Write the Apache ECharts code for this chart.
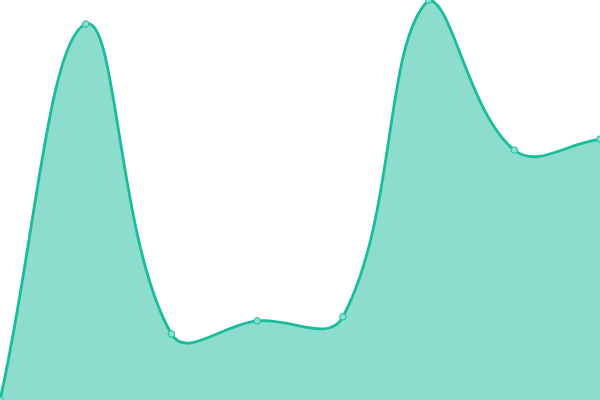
<!DOCTYPE html>
<html><head><meta charset="utf-8">
<script src="https://cdn.jsdelivr.net/npm/echarts@6/dist/echarts.min.js"></script>
<style>html,body{margin:0;padding:0;background:#fff}#c{width:600px;height:400px}</style>
</head><body><div id="c"></div>
<script>
const categories = ['1','2','3','4','5','6','7','8'];
const values = [0, 94, 16.5, 19.8, 20.8, 100, 62.5, 65.2];
const TENSION = 0.4;

function splinePath(pts, area) {
  const cps = pts.map((p, i) => {
    const prev = pts[Math.max(0, i - 1)];
    const next = pts[Math.min(pts.length - 1, i + 1)];
    const d01 = Math.hypot(p[0] - prev[0], p[1] - prev[1]);
    const d12 = Math.hypot(next[0] - p[0], next[1] - p[1]);
    let s01 = d01 / (d01 + d12 || 1), s12 = d12 / (d01 + d12 || 1);
    const fa = TENSION * s01, fb = TENSION * s12;
    const clamp = (v, lo, hi) => Math.max(lo, Math.min(hi, v));
    return {
      px: clamp(p[0] - fa * (next[0] - prev[0]), area.x, area.x + area.width),
      py: clamp(p[1] - fa * (next[1] - prev[1]), area.y, area.y + area.height),
      nx: clamp(p[0] + fb * (next[0] - prev[0]), area.x, area.x + area.width),
      ny: clamp(p[1] + fb * (next[1] - prev[1]), area.y, area.y + area.height)
    };
  });
  let d = 'M' + pts[0][0] + ' ' + pts[0][1];
  for (let i = 1; i < pts.length; i++) {
    d += ' C' + cps[i - 1].nx + ' ' + cps[i - 1].ny + ' ' + cps[i].px + ' ' + cps[i].py + ' ' + pts[i][0] + ' ' + pts[i][1];
  }
  return d;
}

const chart = echarts.init(document.getElementById('c'));
chart.setOption({
  animation:false,
  grid:{left:0,right:0,top:0,bottom:0},
  xAxis:{type:'category',data:categories,boundaryGap:false,show:false},
  yAxis:{type:'value',min:0,max:100,show:false},
  series:[{
    type:'custom',
    data: values.map((v, i) => [i, v]),
    clip: true,
    renderItem: function (params, api) {
      if (params.dataIndex !== 0) return;
      const area = params.coordSys;
      const pts = values.map((v, i) => api.coord([i, v]));
      const line = splinePath(pts, area);
      const base = area.y + area.height;
      const fill = line + ' L' + pts[pts.length - 1][0] + ' ' + base + ' L' + pts[0][0] + ' ' + base + ' Z';
      return {
        type: 'group',
        children: [
          {type:'path', shape:{pathData: fill}, style:{fill:'rgba(26,188,156,0.5)', stroke:'none'}},
          {type:'path', shape:{pathData: line}, style:{fill:'none', stroke:'#1abc9c', lineWidth:2.8}}
        ]
      };
    }
  },{
    type:'line',data:values,
    symbol:'circle',symbolSize:6.5,z:5,
    lineStyle:{width:0,opacity:0},
    itemStyle:{color:'#8ae0cf',borderColor:'#1abc9c',borderWidth:1}
  }]
});
</script></body></html>
